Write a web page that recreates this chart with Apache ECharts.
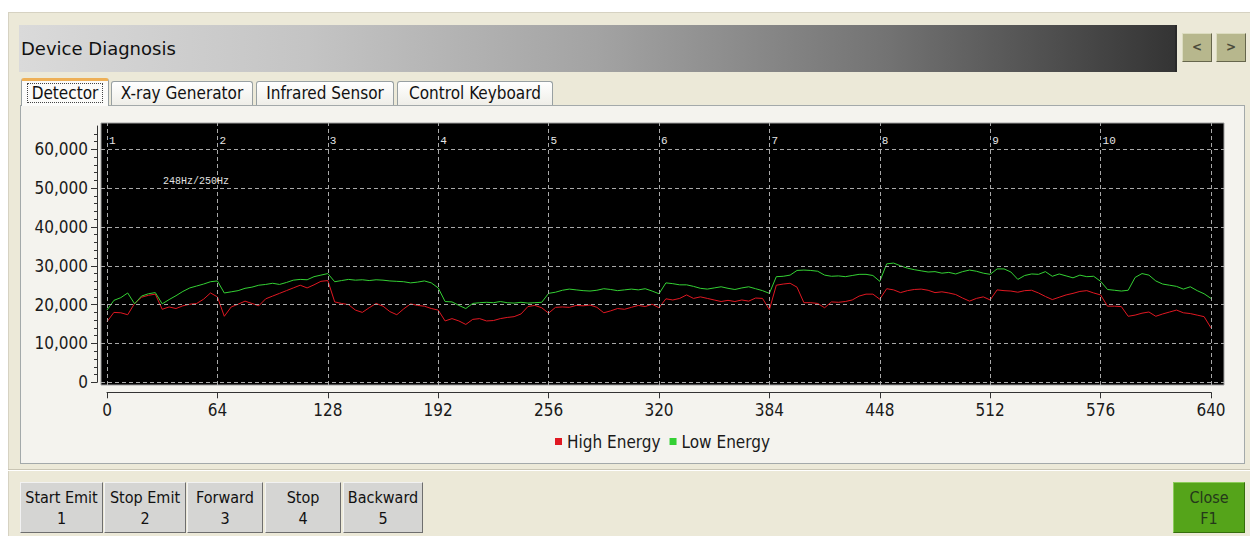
<!DOCTYPE html>
<html>
<head>
<meta charset="utf-8">
<script src="https://cdn.jsdelivr.net/npm/echarts@6/dist/echarts.min.js"></script>
<style>
  html, body { margin: 0; padding: 0; background: #ffffff; }
  #page { position: relative; width: 1250px; height: 536px; overflow: hidden; background: #ffffff;
          font-family: "DejaVu Sans Condensed", "Noto Sans", sans-serif; color: #111; }
  #frame { position: absolute; left: 8px; top: 12px; width: 1242px; height: 524px; background: #ece9d8;
           border-top: 1px solid #d6d2c2; border-left: 1px solid #d6d2c2; box-sizing: border-box; }
  #title { position: absolute; left: 19px; top: 25px; width: 1158px; height: 47px; box-sizing: border-box;
           background: linear-gradient(to right, #dadada 0%, #c4c4c4 25%, #a3a3a3 50%, #737373 75%, #343434 100%);
           border-right: 2px solid #2a2a2a;
           font-family: "DejaVu Sans", "Noto Sans", sans-serif; font-size: 18px; line-height: 47px; padding-left: 2px; color: #111; }
  .arrow { position: absolute; top: 33px; width: 30px; height: 29px; box-sizing: border-box; background: #b7b78d;
           border: 1px solid; border-color: #dcdcc0 #66664c #66664c #dcdcc0; text-align: center;
           font: bold 12px "DejaVu Sans", sans-serif; line-height: 27px; color: #4a4a3a; }
  #panel { position: absolute; left: 20px; top: 105px; width: 1225px; height: 359px; box-sizing: border-box;
           background: #f4f3ee; border: 1px solid #a3a9aa; }
  .tab { position: absolute; box-sizing: border-box; border: 1px solid #98a0a2; border-bottom: none;
         border-radius: 3px 3px 0 0; background: linear-gradient(#ffffff, #efeee8); text-align: center;
         font-size: 17px; color: #111; }
  .tab.active { background: #fbfbf9; border-top: 3px solid #eeb056; z-index: 2; }
  .focus { display: inline-block; border: 1px dotted #444; padding: 0 4px; line-height: 18px; margin-top: 2px; }
  #sep { position: absolute; left: 8px; top: 469px; width: 1242px; height: 0; border-top: 1px solid #c9c5b4; border-bottom: 1px solid #ffffff; }
  .btn { position: absolute; top: 482px; height: 51px; box-sizing: border-box; background: #d5d5d3;
         border: 1px solid; border-color: #f2f2f2 #6e6e6e #6e6e6e #f2f2f2; text-align: center;
         font-size: 16px; line-height: 21px; padding-top: 4px; color: #111; }
  .btn.close { background: #55a41a; border-color: #8ccc5a #356d0c #356d0c #8ccc5a; color: #24381a; }
  #c { position: absolute; left: 0; top: 0; width: 1250px; height: 536px; z-index: 10; }
</style>
</head>
<body>
<div id="page">
  <div id="frame"></div>
  <div id="title"></div>
  <div id="panel"></div>
  <div id="sep"></div>
  <div id="c"></div>
</div>
<script>
// ---------------- data ----------------
const sampleX = [0,4,8,12,16,20,24,28,32,36,40,44,48,52,56,60,
  64,68,72,76,80,84,88,92,96,100,104,108,112,116,120,124,
  128,132,136,140,144,148,152,156,160,164,168,172,176,180,184,188,
  192,196,200,204,208,212,216,220,224,228,232,236,240,244,248,252,
  256,260,264,268,272,276,280,284,288,292,296,300,304,308,312,316,
  320,324,328,332,336,340,344,348,352,356,360,364,368,372,376,380,
  384,388,392,396,400,404,408,412,416,420,424,428,432,436,440,444,
  448,452,456,460,464,468,472,476,480,484,488,492,496,500,504,508,
  512,516,520,524,528,532,536,540,544,548,552,556,560,564,568,572,
  576,580,584,588,592,596,600,604,608,612,616,620,624,628,632,636,
  640];

const highEnergy = [15600,18000,17900,17400,20300,21900,22400,22700,18800,19400,19000,19700,20100,20300,21400,23000,
  22000,17000,19400,20100,20900,20300,19700,21500,22200,22900,23600,24300,25000,24300,25100,26000,
  26200,20700,20300,20000,18600,18000,19200,20300,19600,18200,17400,18900,20200,19800,19600,19000,
  18600,15800,16400,15800,14900,16200,16400,15800,15900,16400,16700,16900,17600,19500,19800,19200,
  17800,19300,19400,19300,19800,19700,19900,19300,17900,18400,19000,18800,19300,19800,19500,20100,
  19200,21500,21200,21600,22500,21600,22000,21600,21200,20800,21100,20800,21200,20900,21700,21600,
  18700,25000,25300,25500,24500,20500,20500,20300,19200,20700,20600,20800,21200,22200,22700,22700,
  21400,24100,23800,23100,23600,23900,24000,23700,23100,23300,23000,22600,21700,20900,21600,22000,
  21200,23800,23600,23500,23200,23600,23700,23000,22100,21300,21900,22500,22900,23400,23600,23000,
  22500,19600,19600,19500,17000,17300,17800,18100,17000,17600,18100,18600,17900,17700,17300,16900,
  14000];

const lowEnergy = [18600,21100,21800,23000,20200,22200,22800,23100,20200,21300,22300,23400,24300,24800,25300,25900,
  26100,23000,23300,23600,24200,24500,25000,25200,25500,25200,25700,26300,26500,26400,27200,27600,
  28000,25900,26200,26500,26300,26400,26200,26400,26300,26100,26000,25900,25600,25800,26100,25600,
  24300,20800,20700,19800,19000,20300,20500,20600,20500,20800,20500,20400,20600,20400,20500,20600,
  22900,23200,23700,24000,23800,23600,23500,23700,24100,23900,23600,23800,24000,23800,24100,23500,
  22800,25600,25400,25100,25100,24700,24200,24000,24300,24600,24200,23900,24300,24600,24100,23600,
  22900,27200,27300,27600,28800,28900,28800,28600,27600,27300,27400,27200,27500,27800,27800,27500,
  26000,30500,30700,30000,29400,29000,28700,28400,28500,28100,28300,27900,28500,28900,28600,28100,
  27800,29200,29200,28400,26500,27500,27900,27800,28500,27300,27900,27400,26900,27600,27200,27300,
  26000,23900,23700,23500,23700,27000,28000,27600,26100,25300,25000,24700,24000,24600,23600,22800,
  21600];

const seriesNames = ['High Energy', 'Low Energy'];
const xTicks = [0, 64, 128, 192, 256, 320, 384, 448, 512, 576, 640];
const yTicks = [0, 10000, 20000, 30000, 40000, 50000, 60000];
const regionLabels = ['1', '2', '3', '4', '5', '6', '7', '8', '9', '10'];
const rateText = '248Hz/250Hz';
const titleText = 'Device Diagnosis';
const tabLabels = ['Detector', 'X-ray Generator', 'Infrared Sensor', 'Control Keyboard'];
const buttonLabels = [['Start Emit', '1'], ['Stop Emit', '2'], ['Forward', '3'], ['Stop', '4'], ['Backward', '5']];
const closeLabel = ['Close', 'F1'];

// ---------------- UI chrome (HTML) ----------------
const page = document.getElementById('page');
document.getElementById('title').textContent = titleText;
[['<', 1182], ['>', 1216]].forEach(([t, l]) => {
  const d = document.createElement('div'); d.className = 'arrow'; d.style.left = l + 'px'; d.textContent = t; page.appendChild(d);
});
const tabBoxes = [[21, 88], [111, 142], [256, 138], [397, 156]];
tabLabels.forEach((t, i) => {
  const d = document.createElement('div');
  d.className = 'tab' + (i === 0 ? ' active' : '');
  d.style.left = tabBoxes[i][0] + 'px';
  d.style.width = tabBoxes[i][1] + 'px';
  if (i === 0) { d.style.top = '78px'; d.style.height = '28px'; d.innerHTML = '<span class="focus"></span>'; d.firstChild.textContent = t; }
  else { d.style.top = '81px'; d.style.height = '24px'; d.style.lineHeight = '23px'; d.textContent = t; }
  page.appendChild(d);
});
const btnBoxes = [[20, 83], [104, 82], [187, 76], [265, 76], [343, 80]];
buttonLabels.forEach((b, i) => {
  const d = document.createElement('div'); d.className = 'btn';
  d.style.left = btnBoxes[i][0] + 'px'; d.style.width = btnBoxes[i][1] + 'px';
  d.innerHTML = '<div></div><div></div>'; d.children[0].textContent = b[0]; d.children[1].textContent = b[1];
  page.appendChild(d);
});
{
  const d = document.createElement('div'); d.className = 'btn close';
  d.style.left = '1173px'; d.style.width = '72px';
  d.innerHTML = '<div></div><div></div>'; d.children[0].textContent = closeLabel[0]; d.children[1].textContent = closeLabel[1];
  page.appendChild(d);
}

// ---------------- chart ----------------
const FONT = '"DejaVu Sans Condensed", "Noto Sans", sans-serif';
const MONO = '"Liberation Mono", "DejaVu Sans Mono", monospace';
// pixel layout of the plot
const plotL = 101, plotR = 1224, plotT = 123, plotB = 385;
const axL = 107, axR = 1211, axT = 126, axB = 382.3, axMax = 66000;
const pxPerX = (axR - axL) / 640;
const pxPerY = (axB - axT) / axMax;
const xMinA = -(axL - plotL) / pxPerX, xMaxA = 640 + (plotR - axR) / pxPerX;
const yMinA = -(plotB - axB) / pxPerY, yMaxA = axMax + (axT - plotT) / pxPerY;

const chart = echarts.init(document.getElementById('c'), null, { renderer: 'svg', width: 1250, height: 536 });
const RED = '#e01822', GREEN = '#34d034';
chart.setOption({
  animation: false,
  backgroundColor: 'transparent',
  grid: [
    { left: plotL, top: plotT, width: plotR - plotL, height: plotB - plotT, show: true,
      backgroundColor: '#000000', borderColor: '#a0a0a0', borderWidth: 1 },
    { left: axL, top: axT, width: axR - axL, height: axB - axT, show: false }
  ],
  xAxis: [
    { gridIndex: 0, type: 'value', min: xMinA, max: xMaxA, show: false },
    { gridIndex: 1, type: 'value', min: 0, max: 640, interval: 64, position: 'bottom', offset: 10,
      axisLine: { show: true, onZero: false, lineStyle: { color: '#333', width: 1 } },
      axisTick: { show: true, length: 6, lineStyle: { color: '#333' } },
      axisLabel: { margin: 9, fontSize: 17, color: '#1a1a1a', fontFamily: FONT },
      splitLine: { show: false } },
    { gridIndex: 1, type: 'value', min: 0, max: 640, interval: 64, position: 'top',
      axisLine: { show: false, onZero: false }, axisTick: { show: false }, splitLine: { show: false },
      axisLabel: { inside: true, margin: 9, fontSize: 11, color: '#e6e6e6', fontFamily: MONO, align: 'left',
        padding: [0, 0, 0, 2], showMaxLabel: true,
        formatter: (v) => { const i = Math.round(v / 64); return regionLabels[i] !== undefined ? regionLabels[i] : ''; } } }
  ],
  yAxis: [
    { gridIndex: 0, type: 'value', min: yMinA, max: yMaxA, show: false },
    { gridIndex: 1, type: 'value', min: 0, max: axMax, interval: 10000, offset: 10,
      axisLine: { show: true, onZero: false, lineStyle: { color: '#333', width: 1 } },
      axisTick: { show: true, length: 6, lineStyle: { color: '#333' }, customValues: yTicks },
      minorTick: { show: true, splitNumber: 5, length: 3, lineStyle: { color: '#333' } },
      axisLabel: { margin: 9, fontSize: 17, color: '#1a1a1a', fontFamily: FONT, customValues: yTicks,
        showMaxLabel: true,
        formatter: (v) => v.toLocaleString('en-US') },
      splitLine: { show: false }, minorSplitLine: { show: false } }
  ],
  legend: {
    data: seriesNames, left: 550, top: 428, icon: 'rect', itemWidth: 7, itemHeight: 7, itemGap: 9,
    textStyle: { fontSize: 17, color: '#1a1a1a', fontFamily: FONT }
  },
  tooltip: { show: false },
  graphic: [
    { type: 'text', left: 163, top: 176, z: 100, silent: true,
      style: { text: rateText, fill: '#e0e0e0', font: '10px ' + MONO } }
  ],
  series: [
    { type: 'line', name: '__grid', xAxisIndex: 0, yAxisIndex: 0, data: [], z: 1, silent: true,
      markLine: { silent: true, symbol: ['none', 'none'], label: { show: false }, animation: false,
        lineStyle: { type: [4, 3], color: '#a8a8a8', width: 1 },
        data: xTicks.map(v => ({ xAxis: v })).concat(yTicks.map(v => ({ yAxis: v }))) } },
    { type: 'line', name: seriesNames[0], xAxisIndex: 0, yAxisIndex: 0, z: 3,
      data: sampleX.map((x, i) => [x, highEnergy[i]]), symbol: 'none', showSymbol: false,
      lineStyle: { color: RED, width: 1 }, itemStyle: { color: RED } },
    { type: 'line', name: seriesNames[1], xAxisIndex: 0, yAxisIndex: 0, z: 4,
      data: sampleX.map((x, i) => [x, lowEnergy[i]]), symbol: 'none', showSymbol: false,
      lineStyle: { color: GREEN, width: 1 }, itemStyle: { color: GREEN } }
  ]
});
</script>
</body>
</html>
